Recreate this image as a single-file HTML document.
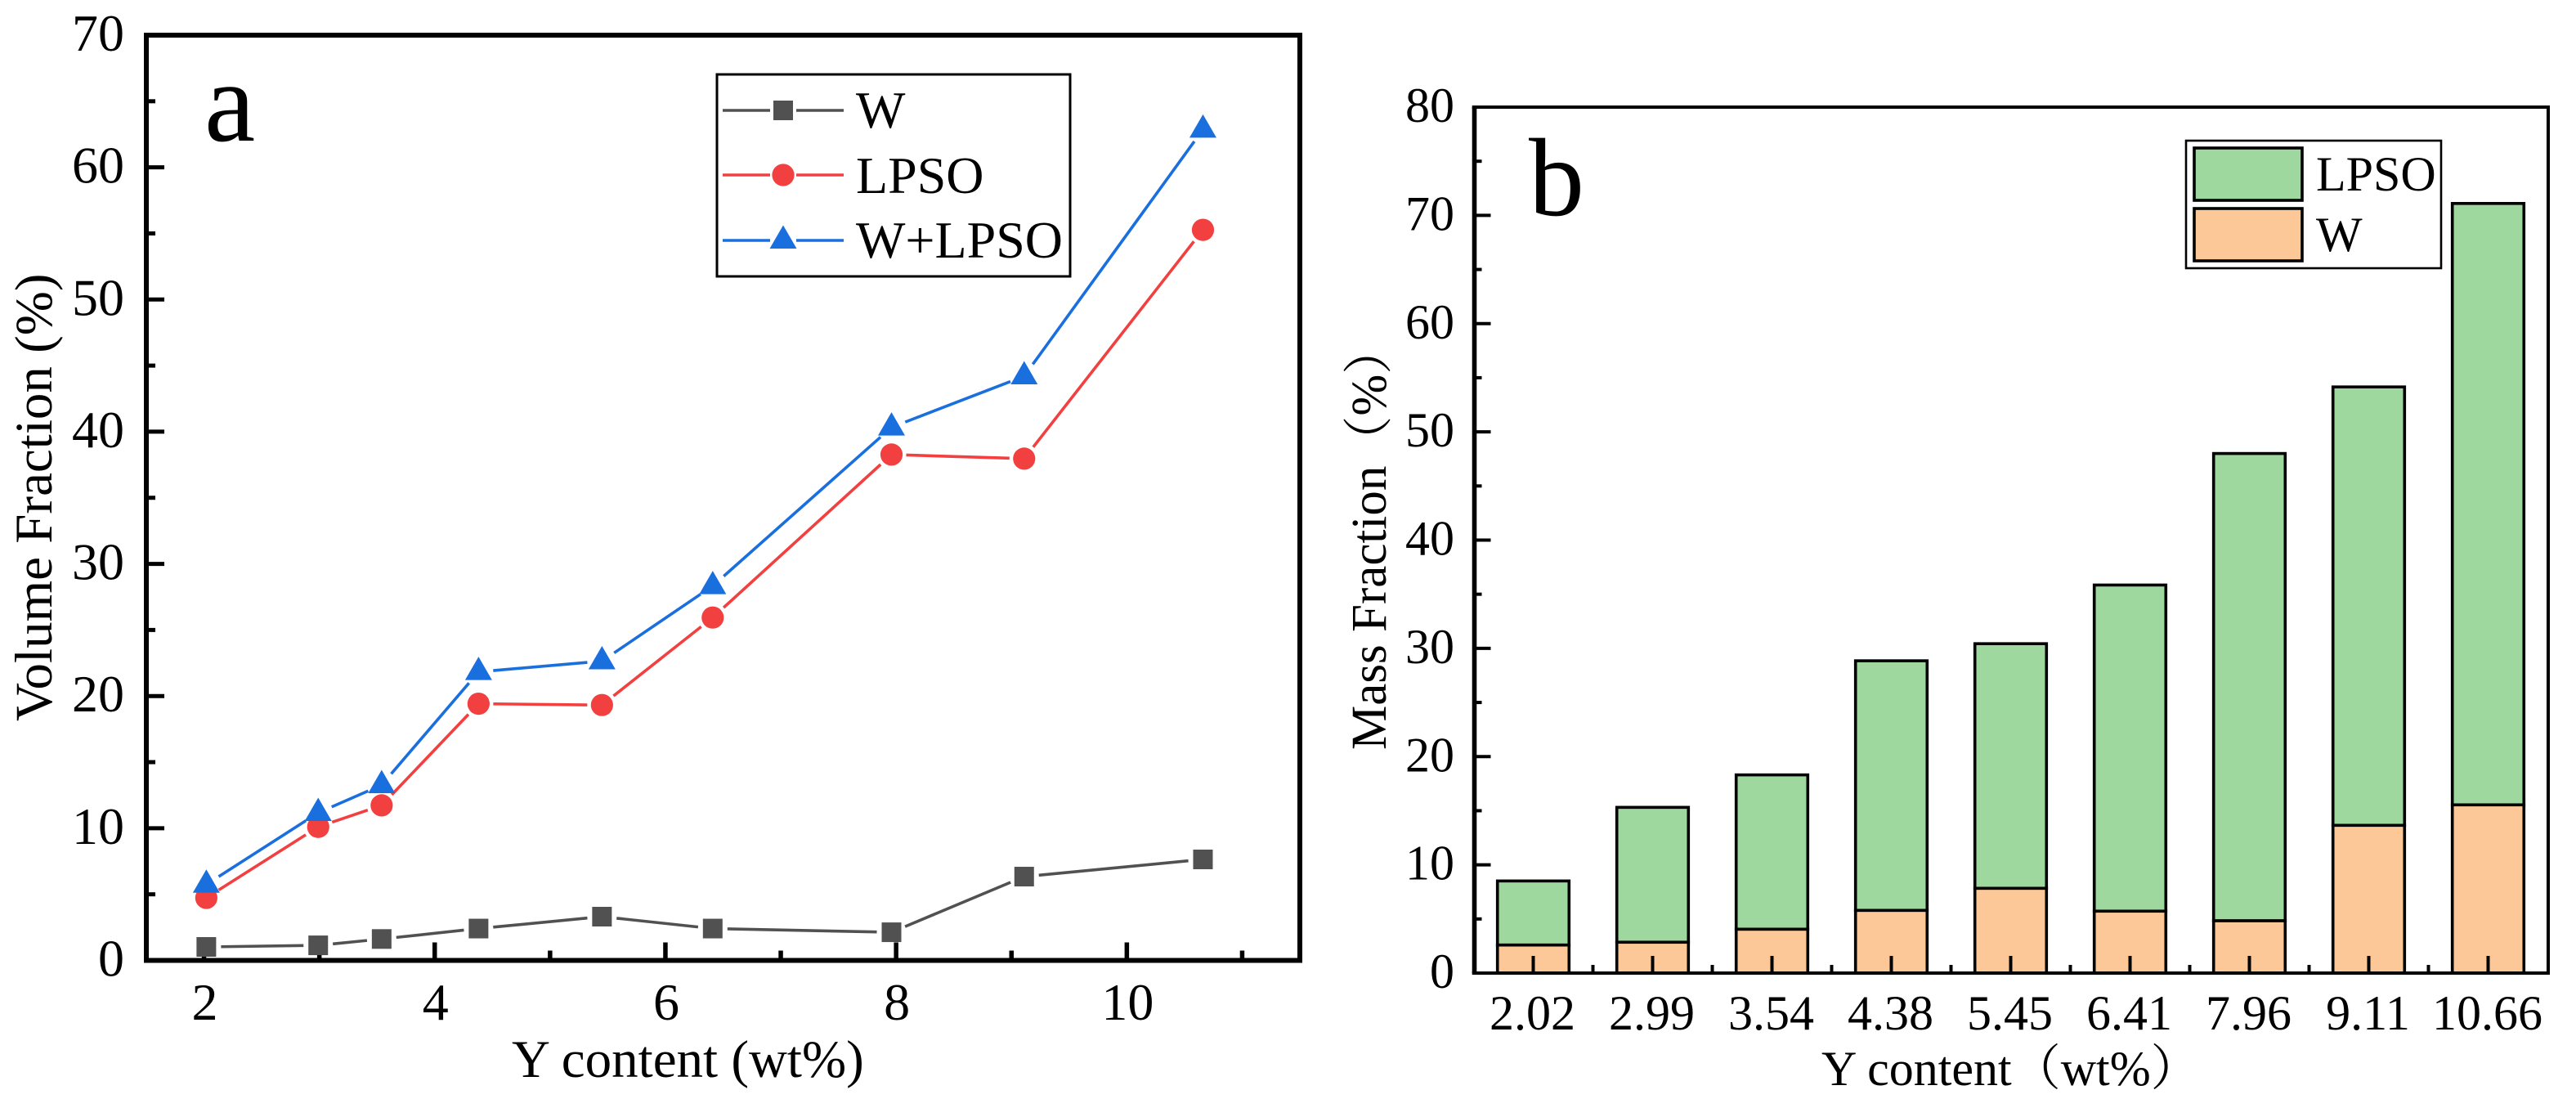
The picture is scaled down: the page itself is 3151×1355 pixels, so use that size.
<!DOCTYPE html>
<html lang="en">
<head>
<meta charset="utf-8">
<title>Volume and mass fraction versus Y content</title>
<style>
html,body{margin:0;padding:0;background:#fff;}
svg{display:block;}
text{font-family:"Liberation Serif","Noto Serif CJK SC",serif;fill:#000;}
</style>
</head>
<body>
<svg id="figure" xmlns="http://www.w3.org/2000/svg" width="3151" height="1355" viewBox="0 0 3151 1355"></svg>
<script>
// Panel a data
const yContent = [2.02, 2.99, 3.54, 4.38, 5.45, 6.41, 7.96, 9.11, 10.66];
const volumeW = [1.02, 1.14, 1.62, 2.41, 3.31, 2.41, 2.13, 6.34, 7.64];
const volumeLPSO = [4.73, 10.1, 11.73, 19.42, 19.32, 25.94, 38.27, 37.96, 55.27];
const volumeTotal = [5.74, 11.17, 13.27, 21.83, 22.64, 28.33, 40.33, 44.2, 62.86];
const volumeXTicks = [2, 4, 6, 8, 10];
const volumeYTicks = [0, 10, 20, 30, 40, 50, 60, 70];

// Panel b data
const massCategories = ['2.02', '2.99', '3.54', '4.38', '5.45', '6.41', '7.96', '9.11', '10.66'];
const massW = [2.59, 2.85, 4.05, 5.79, 7.83, 5.72, 4.83, 13.65, 15.54];
const massLPSO = [5.92, 12.46, 14.26, 23.06, 22.60, 30.13, 43.17, 40.50, 55.56];
const massYTicks = [0, 10, 20, 30, 40, 50, 60, 70, 80];

const GRAY = '#515151', RED = '#F24040', BLUE = '#1A6FDF', GREEN = '#9ED89E', ORANGE = '#FCC898';
const svg = document.getElementById('figure');
const NS = 'http://www.w3.org/2000/svg';

function mk(tag, attrs, name, parent) {
  const el = document.createElementNS(NS, tag);
  for (const k in attrs) el.setAttribute(k, attrs[k]);
  
  
  (parent || svg).appendChild(el);
  return el;
}
function line(x1, y1, x2, y2, color, w, name, parent) {
  return mk('line', {x1, y1, x2, y2, stroke: color, 'stroke-width': w}, name, parent);
}
function label(str, x, y, size, anchor, name, parent, rot) {
  const a = {x, y, 'font-size': size, 'text-anchor': anchor};
  if (rot) a.transform = 'rotate(-90 ' + x + ' ' + y + ')';
  const t = mk('text', a, name, parent);
  t.textContent = str;
  return t;
}
function marker(kind, cx, cy, color, name, parent) {
  if (kind === 'square') return mk('rect', {x: cx - 12, y: cy - 12, width: 24, height: 24, fill: color}, name, parent);
  if (kind === 'circle') return mk('circle', {cx, cy, r: 13.6, fill: color}, name, parent);
  const pts = cx + ',' + (cy - 18.5) + ' ' + (cx + 16.5) + ',' + (cy + 10) + ' ' + (cx - 16.5) + ',' + (cy + 10);
  return mk('polygon', {points: pts, fill: color}, name, parent);
}

/* ---------- Panel a ---------- */
const A = {l: 179, r: 1590, t: 43, b: 1174.5, xMin: 1.5, xMax: 11.5, yMin: 0, yMax: 70};
function ax(v) { return A.l + (v - A.xMin) / (A.xMax - A.xMin) * (A.r - A.l); }
function ay(v) { return A.b - (v - A.yMin) / (A.yMax - A.yMin) * (A.b - A.t); }

const gA = mk('g', {}, 'panel-a-volume-fraction-chart');
const AW = 6;
line(A.l - AW / 2, A.t, A.r + AW / 2, A.t, '#000', AW, 'axis-top', gA);
line(A.l - AW / 2, A.b, A.r + AW / 2, A.b, '#000', AW, 'x-axis', gA);
line(A.l, A.t, A.l, A.b, '#000', AW, 'y-axis', gA);
line(A.r, A.t, A.r, A.b, '#000', AW, 'axis-right', gA);

volumeYTicks.forEach(function (v, i) {
  line(A.l, ay(v), A.l + 22, ay(v), '#000', 5, 'y-tick-' + v, gA);
  label(String(v), 152, ay(v) + 19, 64, 'end', 'y-tick-label-' + v, gA);
  if (i < volumeYTicks.length - 1) {
    const m = (v + volumeYTicks[i + 1]) / 2;
    line(A.l, ay(m), A.l + 11, ay(m), '#000', 5, 'y-minor-tick', gA);
  }
});
volumeXTicks.forEach(function (v) {
  line(ax(v), A.b, ax(v), A.b - 22, '#000', 5.5, 'x-tick-' + v, gA);
  label(String(v), ax(v) + 1, 1247, 64, 'middle', 'x-tick-label-' + v, gA);
  line(ax(v + 1), A.b, ax(v + 1), A.b - 12, '#000', 5.5, 'x-minor-tick', gA);
});
label('Y content (wt%)', 626, 1317, 65, 'start', 'x-axis-title', gA);
label('Volume Fraction (%)', 63, 882, 65, 'start', 'y-axis-title', gA, true);
label('a', 250, 172, 140, 'start', 'panel-label-a', gA);

function drawSeries(values, color, kind, name) {
  const g = mk('g', {}, name + '-series', gA);
  const GAP = 18;
  for (let i = 0; i < values.length - 1; i++) {
    const x1 = ax(yContent[i]), y1 = ay(values[i]), x2 = ax(yContent[i + 1]), y2 = ay(values[i + 1]);
    const d = Math.hypot(x2 - x1, y2 - y1), ux = (x2 - x1) / d, uy = (y2 - y1) / d;
    line(x1 + ux * GAP, y1 + uy * GAP, x2 - ux * GAP, y2 - uy * GAP, color, 3.6, name + '-line-segment', g);
  }
  values.forEach(function (v, i) {
    marker(kind, ax(yContent[i]), ay(v), color, name + '-point', g);
  });
}
drawSeries(volumeW, GRAY, 'square', 'w');
drawSeries(volumeLPSO, RED, 'circle', 'lpso');
drawSeries(volumeTotal, BLUE, 'triangle', 'w-plus-lpso');

const legA = mk('g', {}, 'legend-a', gA);
mk('rect', {x: 877, y: 91, width: 432, height: 247, fill: 'none', stroke: '#000', 'stroke-width': 3}, 'legend-a-frame', legA);
[['W', GRAY, 'square', 135, 156], ['LPSO', RED, 'circle', 214, 236], ['W+LPSO', BLUE, 'triangle', 294, 315]].forEach(function (e) {
  const g = mk('g', {}, 'legend-entry-' + e[0].toLowerCase().replace('+', '-plus-'), legA);
  line(884, e[3], 942, e[3], e[1], 3.6, 'legend-line-left', g);
  line(974, e[3], 1032, e[3], e[1], 3.6, 'legend-line-right', g);
  marker(e[2], 958, e[3], e[1], 'legend-marker', g);
  label(e[0], 1047, e[4], 64, 'start', 'legend-label', g);
});

/* ---------- Panel b ---------- */
const B = {l: 1803.5, r: 3117, t: 131, b: 1190, yMin: 0, yMax: 80, x0: 1875.5, step: 146, barW: 87.6};
function bx(i) { return B.x0 + i * B.step; }
function by(v) { return B.b - (v - B.yMin) / (B.yMax - B.yMin) * (B.b - B.t); }

const gB = mk('g', {}, 'panel-b-mass-fraction-chart');
const BARS = mk('g', {}, 'stacked-bars', gB);
massCategories.forEach(function (c, i) {
  const x = bx(i) - B.barW / 2;
  const w = massW[i], total = massW[i] + massLPSO[i];
  mk('rect', {x, y: by(total), width: B.barW, height: by(w) - by(total), fill: GREEN, stroke: '#000', 'stroke-width': 3.6}, 'bar-lpso-' + c, BARS);
  mk('rect', {x, y: by(w), width: B.barW, height: by(0) - by(w), fill: ORANGE, stroke: '#000', 'stroke-width': 3.6}, 'bar-w-' + c, BARS);
});
line(B.l - 2.8, B.t, B.r + 2, B.t, '#000', 4, 'axis-top', gB);
line(B.l - 2.8, B.b, B.r + 2, B.b, '#000', 4, 'x-axis', gB);
line(B.l, B.t, B.l, B.b, '#000', 5.6, 'y-axis', gB);
line(B.r, B.t, B.r, B.b, '#000', 4, 'axis-right', gB);

massYTicks.forEach(function (v, i) {
  line(B.l, by(v), B.l + 20, by(v), '#000', 4, 'y-tick-' + v, gB);
  label(String(v), 1779, by(v) + 18, 60, 'end', 'y-tick-label-' + v, gB);
  if (i < massYTicks.length - 1) {
    const m = (v + massYTicks[i + 1]) / 2;
    line(B.l, by(m), B.l + 9, by(m), '#000', 4, 'y-minor-tick', gB);
  }
});
massCategories.forEach(function (c, i) {
  line(bx(i), B.b, bx(i), B.b - 21, '#000', 4, 'x-tick-' + c, gB);
  label(c, bx(i) - 1, 1259, 60, 'middle', 'x-tick-label-' + c, gB);
  if (i < massCategories.length - 1) {
    line(bx(i + 0.5), B.b, bx(i + 0.5), B.b - 10, '#000', 4, 'x-minor-tick', gB);
  }
});
label('Y content（wt%）', 2228, 1327, 60, 'start', 'x-axis-title', gB);
label('Mass Fraction（%）', 1695, 917, 61, 'start', 'y-axis-title', gB, true);
label('b', 1870, 263, 136, 'start', 'panel-label-b', gB);

const legB = mk('g', {}, 'legend-b', gB);
mk('rect', {x: 2674, y: 172, width: 312, height: 156, fill: 'none', stroke: '#000', 'stroke-width': 2.6}, 'legend-b-frame', legB);
[['LPSO', GREEN, 181, 233], ['W', ORANGE, 255, 307]].forEach(function (e) {
  const g = mk('g', {}, 'legend-entry-' + e[0].toLowerCase(), legB);
  mk('rect', {x: 2684, y: e[2], width: 132, height: 64, fill: e[1], stroke: '#000', 'stroke-width': 3.6}, 'legend-swatch', g);
  label(e[0], 2833, e[3], 60, 'start', 'legend-label', g);
});
</script>
</body>
</html>
